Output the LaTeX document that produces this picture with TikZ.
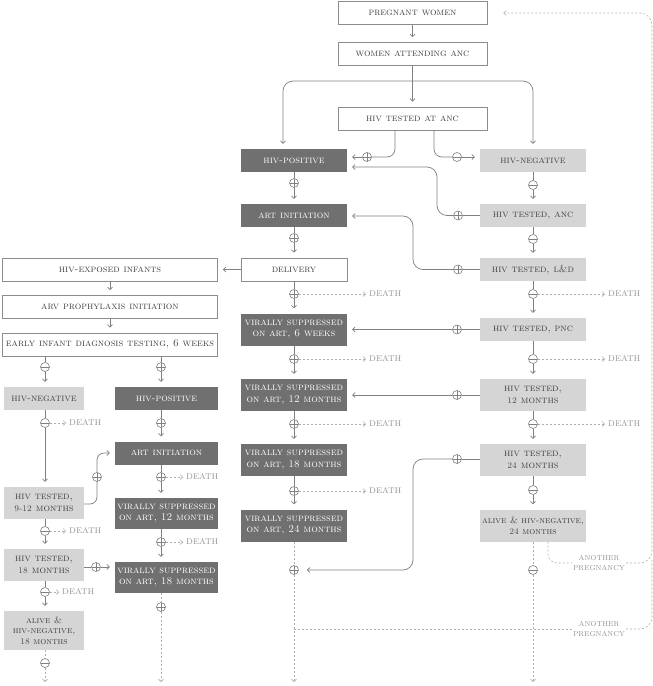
\documentclass[tikz,border=0pt]{standalone}
\usepackage{fontspec}
\usetikzlibrary{arrows.meta}
\definecolor{dk}{RGB}{112,112,112}
\definecolor{lt}{RGB}{213,213,213}
\definecolor{bord}{RGB}{140,140,140}
\definecolor{ln}{RGB}{128,128,128}
\definecolor{dshc}{RGB}{176,176,176}
\definecolor{txt}{RGB}{65,65,65}
\definecolor{dtxt}{RGB}{150,150,150}
\newcommand\sd[1]{{\fontsize{8.6}{9}\selectfont #1}}
\newcommand\bxfont{\fontsize{10.3}{11.5}\selectfont\scshape\addfontfeatures{FakeBold=1}}
\tikzset{
  box/.style={rectangle, inner sep=1pt, align=center, font=\bxfont, text=txt},
  wbox/.style={box, draw=bord, fill=white, line width=0.6pt},
  dbox/.style={box, fill=dk, text=white},
  lbox/.style={box, fill=lt},
  sA/.style={minimum width=106pt, minimum height=23pt},
  sB/.style={minimum width=106pt, minimum height=32pt},
  sL/.style={minimum width=80pt, minimum height=23pt},
  sM/.style={minimum width=103pt, minimum height=23pt},
  pl/.style={circle, draw=ln, fill=white, inner sep=0pt, minimum size=9pt, line width=0.6pt,
    path picture={\draw[ln, line width=0.5pt] (path picture bounding box.north) -- (path picture bounding box.south) (path picture bounding box.west) -- (path picture bounding box.east);}},
  mi/.style={circle, draw=ln, fill=white, inner sep=0pt, minimum size=9pt, line width=0.6pt,
    path picture={\draw[ln, line width=0.5pt] (path picture bounding box.west) -- (path picture bounding box.east);}},
  conn/.style={draw=ln, line width=0.7pt},
  arr/.style={conn, -{Straight Barb[length=2.5pt,width=5pt]}, shorten >=5pt},
  dsh/.style={draw=dshc, line width=0.6pt, dash pattern=on 2pt off 2pt},
  darr/.style={dsh, -{Straight Barb[length=2.5pt,width=5pt]}, shorten >=2pt},
  death/.style={inner sep=1pt, font=\fontsize{11}{12}\selectfont\scshape, text=dtxt},
  preg/.style={inner sep=1pt, align=center, font=\fontsize{9.6}{9.6}\selectfont\scshape, text=dtxt},
}
\begin{document}
\begin{tikzpicture}[x=1pt,y=-1pt]
\useasboundingbox[fill=white] (0,0) rectangle (653,686);
\coordinate (bot) at (0,682);
\coordinate (topline) at (0,81);
% top
\node[wbox, minimum width=149pt, minimum height=23pt] (pw) at (412.5,13) {pregnant women};
\node[wbox, minimum width=149pt, minimum height=23pt] (anc) at (412.5,54) {women attending anc};
\node[wbox, minimum width=149pt, minimum height=23pt] (tanc) at (412.5,118.5) {hiv tested at anc};
% centre column
\node[dbox, sA] (hpos) at (294,160.5) {hiv-positive};
\node[dbox, sA] (artI) at (294,215.5) {art initiation};
\node[wbox, sA] (deliv) at (294,269.5) {delivery};
\node[dbox, sB] (vs6) at (294,329.5) {virally suppressed\\on art, 6 weeks};
\node[dbox, sB] (vs12) at (294,395) {virally suppressed\\on art, 12 months};
\node[dbox, sB] (vs18) at (294,460) {virally suppressed\\on art, 18 months};
\node[dbox, sB] (vs24) at (294,525.5) {virally suppressed\\on art, 24 months};
% right column
\node[lbox, sA] (hneg) at (533,160.5) {hiv-negative};
\node[lbox, sA] (tANC) at (533,215.5) {hiv tested, anc};
\node[lbox, sA] (tLD) at (533,269.5) {hiv tested, l\&d};
\node[lbox, sA] (tPNC) at (533,329.5) {hiv tested, pnc};
\node[lbox, sB] (t12) at (533,395) {hiv tested,\\\sd{12} months};
\node[lbox, sB] (t24) at (533,460) {hiv tested,\\\sd{24} months};
\node[lbox, sB, font=\fontsize{9.4}{11}\selectfont\scshape\addfontfeatures{FakeBold=1}] (al24) at (533,525.5) {alive \& hiv-negative,\\\sd{24} months};
% left
\node[wbox, minimum width=215pt, minimum height=23pt] (hei) at (110,269.5) {hiv-exposed infants};
\node[wbox, minimum width=215pt, minimum height=23pt] (arv) at (110,307) {arv prophylaxis initiation};
\node[wbox, minimum width=215pt, minimum height=23pt] (eid) at (110,344.5) {early infant diagnosis testing, 6 weeks};
\node[lbox, sL] (lneg) at (44,398.5) {hiv-negative};
\node[dbox, sM] (lpos) at (166.5,398.5) {hiv-positive};
\node[dbox, sM] (lart) at (166.5,453) {art initiation};
\node[lbox, minimum width=80pt, minimum height=32pt] (l912) at (44,503) {hiv tested,\\\sd{9-12} months};
\node[dbox, minimum width=103pt, minimum height=31pt] (lvs12) at (166.5,513.5) {virally suppressed\\on art, 12 months};
\node[lbox, minimum width=80pt, minimum height=32pt] (l18) at (44,565) {hiv tested,\\\sd{18} months};
\node[dbox, minimum width=103pt, minimum height=31pt] (lvs18) at (166.5,577.5) {virally suppressed\\on art, 18 months};
\node[lbox, minimum width=80pt, minimum height=39pt, font=\fontsize{9.4}{10.4}\selectfont\scshape\addfontfeatures{FakeBold=1}] (lal) at (44,630.5) {alive \&\\hiv-negative,\\\sd{18} months};
% circles
\node[pl] (c1) at (367,157) {};
\node[mi] (c2) at (457,157) {};
\node[pl] (c3) at (294,183) {};
\node[mi] (c4) at (533,185) {};
\node[pl] (c5) at (294,238) {};
\node[mi] (c6) at (533,239) {};
\node[pl] (c7) at (458,215.5) {};
\node[pl] (c8) at (458,269.5) {};
\node[pl] (c9) at (294,294) {};
\node[mi] (c10) at (533,294) {};
\node[pl] (c11) at (457,329.5) {};
\node[pl] (c12) at (294,359) {};
\node[mi] (c13) at (533,359) {};
\node[pl] (c14) at (457,395) {};
\node[pl] (c15) at (294,424) {};
\node[mi] (c16) at (533,424) {};
\node[pl] (c17) at (457,459) {};
\node[pl] (c18) at (294,491) {};
\node[mi] (c19) at (533,490) {};
\node[pl] (c20) at (294,570) {};
\node[mi] (c21) at (533,570) {};
\node[mi] (c22) at (45,367) {};
\node[pl] (c23) at (161,367) {};
\node[mi] (c24) at (45,423) {};
\node[pl] (c25) at (161,423) {};
\node[pl] (c26) at (97,477) {};
\node[pl] (c27) at (161,477) {};
\node[mi] (c28) at (45,531) {};
\node[pl] (c29) at (161,542) {};
\node[pl] (c30) at (96,567) {};
\node[mi] (c31) at (45,592) {};
\node[pl] (c32) at (161,607) {};
\node[mi] (c33) at (45,663) {};
% death labels
\node[death, anchor=west] (d9) at (368,294) {death};
\node[death, anchor=west] (d10) at (607,294) {death};
\node[death, anchor=west] (d12) at (368,359) {death};
\node[death, anchor=west] (d13) at (607,359) {death};
\node[death, anchor=west] (d15) at (368,424) {death};
\node[death, anchor=west] (d16) at (607,424) {death};
\node[death, anchor=west] (d18) at (368,491) {death};
\node[death, anchor=west] (d24) at (68,423) {death};
\node[death, anchor=west] (d27) at (185,477) {death};
\node[death, anchor=west] (d28) at (68,531) {death};
\node[death, anchor=west] (d29) at (185,542) {death};
\node[death, anchor=west] (d31) at (61,592) {death};
\node[preg] (ap1) at (599,563) {another\\pregnancy};
\node[preg] (ap2) at (599,629) {another\\pregnancy};
% top connectors
\draw[arr] (pw) -- (anc);
\draw[arr] (anc) -- (tanc);
\draw[conn, {Straight Barb[length=2.5pt,width=5pt]}-{Straight Barb[length=2.5pt,width=5pt]}, shorten <=5pt, shorten >=5pt, rounded corners=10pt]
  ([xshift=-11pt]hpos.north) |- (hneg.north |- topline) -- (hneg.north);
\draw[conn, rounded corners=8pt] ([xshift=-17.5pt]tanc.south) |- (c1);
\draw[arr] (c1) -- (c1 -| hpos.east);
\draw[conn, rounded corners=8pt] ([xshift=21.5pt]tanc.south) |- (c2);
\draw[arr] (c2) -- (c2 -| hneg.west);
% centre column
\draw[conn] (hpos) -- (c3); \draw[arr] (c3) -- (artI);
\draw[conn] (artI) -- (c5); \draw[arr] (c5) -- (deliv);
\draw[conn] (deliv) -- (c9); \draw[arr] (c9) -- (vs6);
\draw[conn] (vs6) -- (c12); \draw[arr] (c12) -- (vs12);
\draw[conn] (vs12) -- (c15); \draw[arr] (c15) -- (vs18);
\draw[conn] (vs18) -- (c18); \draw[arr] (c18) -- (vs24);
\draw[dsh] (vs24) -- (c20);
\draw[darr, shorten >=0pt] (c20) -- (c20 |- bot);
% right column
\draw[conn] (hneg) -- (c4); \draw[arr] (c4) -- (tANC);
\draw[conn] (tANC) -- (c6); \draw[arr] (c6) -- (tLD);
\draw[conn] (tLD) -- (c10); \draw[arr] (c10) -- (tPNC);
\draw[conn] (tPNC) -- (c13); \draw[arr] (c13) -- (t12);
\draw[conn] (t12) -- (c16); \draw[arr] (c16) -- (t24);
\draw[conn] (t24) -- (c19); \draw[arr] (c19) -- (al24);
\draw[dsh] (al24) -- (c21);
\draw[darr, shorten >=0pt] (c21) -- (c21 |- bot);
% cross connectors
\draw[conn] (tANC.west |- c7) -- (c7);
\draw[arr, rounded corners=10pt] (c7) -| (437,190) |- (hpos.east |- 0,167);
\draw[conn] (tLD.west |- c8) -- (c8);
\draw[arr, rounded corners=10pt] (c8) -| (413,240) |- (artI.east |- 0,216);
\draw[conn] (tPNC.west |- c11) -- (c11);
\draw[arr] (c11) -- (c11 -| vs6.east);
\draw[conn] (t12.west |- c14) -- (c14);
\draw[arr] (c14) -- (c14 -| vs12.east);
\draw[conn] (t24.west |- c17) -- (c17);
\draw[arr, shorten >=8pt, rounded corners=10pt] (c17) -| (413,520) |- (c20);
% deaths
\foreach \c/\d in {c9/d9,c10/d10,c12/d12,c13/d13,c15/d15,c16/d16,c18/d18,c24/d24,c27/d27,c28/d28,c29/d29,c31/d31}
  \draw[darr] (\c) -- (\d);
% another pregnancy
\draw[dsh, rounded corners=9pt] ([xshift=15pt]al24.south) |- (ap1.west);
\draw[darr, shorten >=16pt, rounded corners=12pt] (ap1.east) -| (652,300) |- (pw.east);
\draw[dsh] (vs24.south |- ap2) -- (ap2.west);
\draw[dsh, rounded corners=12pt] (ap2.east) -| (652,560);
% left side
\draw[arr] (deliv) -- (hei);
\draw[arr] (hei) -- (arv);
\draw[arr] (arv) -- (eid);
\draw[conn] (eid.south -| c22) -- (c22); \draw[arr] (c22) -- (c22 |- lneg.north);
\draw[conn] (eid.south -| c23) -- (c23); \draw[arr] (c23) -- (c23 |- lpos.north);
\draw[conn] (lneg.south -| c24) -- (c24); \draw[arr] (c24) -- (c24 |- l912.north);
\draw[conn] (lpos.south -| c25) -- (c25); \draw[arr] (c25) -- (c25 |- lart.north);
\draw[conn, rounded corners=7pt] (l912.east |- 0,504) -| (c26);
\draw[arr, rounded corners=7pt] (c26) |- (lart.west);
\draw[conn] (lart.south -| c27) -- (c27); \draw[arr] (c27) -- (c27 |- lvs12.north);
\draw[conn] (l912.south -| c28) -- (c28); \draw[arr] (c28) -- (c28 |- l18.north);
\draw[conn] (lvs12.south -| c29) -- (c29); \draw[arr] (c29) -- (c29 |- lvs18.north);
\draw[conn] (l18.east |- c30) -- (c30); \draw[arr] (c30) -- (c30 -| lvs18.west);
\draw[conn] (l18.south -| c31) -- (c31); \draw[arr] (c31) -- (c31 |- lal.north);
\draw[dsh] (lvs18.south -| c32) -- (c32); \draw[darr, shorten >=0pt] (c32) -- (c32 |- bot);
\draw[dsh] (lal.south -| c33) -- (c33); \draw[darr, shorten >=0pt] (c33) -- (c33 |- bot);
\end{tikzpicture}
\end{document}
